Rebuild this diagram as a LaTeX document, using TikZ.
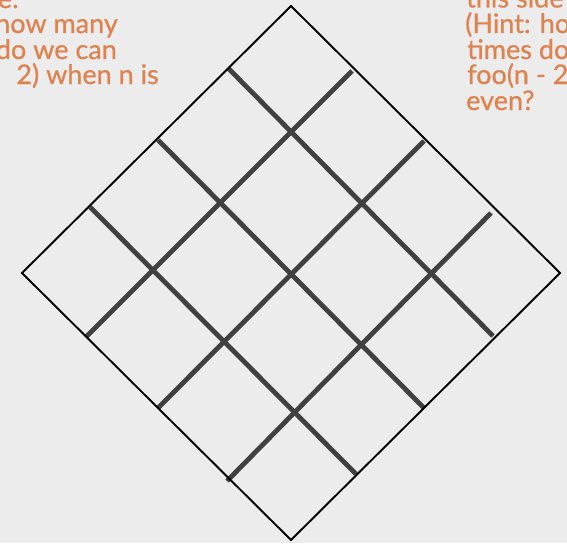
\documentclass[tikz,border=0pt]{standalone}
\usepackage{fontspec}
\newfontfamily\notefont{Lato}[FakeBold=0.7]
\definecolor{paper}{RGB}{236,236,236}
\definecolor{notecolor}{RGB}{222,130,80}
\definecolor{gridgray}{RGB}{64,64,64}

\begin{document}
\begin{tikzpicture}[x=1pt, y=-1pt,
    frame/.style={draw=black, line width=1.9pt, line join=miter},
    gridline/.style={draw=gridgray, line width=4.8pt},
    note/.style={inner sep=0pt, text=notecolor, font=\notefont\fontsize{27}{27}\selectfont},
]

% Paper
\fill[paper] (0,0) rectangle (567,543);
\useasboundingbox (0,0) rectangle (567,543);
\clip (0,0) rectangle (567,543);

% Diamond corners
\coordinate (top) at (291,6);
\coordinate (left) at (22,273);
\coordinate (bottom) at (291,540);
\coordinate (right) at (560,273);

% Ends of the inner lines
\coordinate (ul1) at (228,68);  \coordinate (lr1) at (493,336);
\coordinate (ul2) at (158,140); \coordinate (lr2) at (424,408);
\coordinate (ul3) at (90,207);  \coordinate (lr3) at (356,474);
\coordinate (ll1) at (86,337);  \coordinate (ur1) at (352,71);
\coordinate (ll2) at (158,408); \coordinate (ur2) at (424,141);
\coordinate (ll3) at (227,481); \coordinate (ur3) at (491,213);

% Inner grid
\foreach \i in {1,2,3} {
    \draw[gridline] (ul\i) -- (lr\i);
    \draw[gridline] (ll\i) -- (ur\i);
}

% Outline
\draw[frame] (top) -- (right) -- (bottom) -- (left) -- cycle;

% Notes, cut off at the edges
\node[note, anchor=base east] (n1) at (19,8) {e:};
\node[note, anchor=base east] (n2) at (118,33) {how many};
\node[note, anchor=base east] (n3) at (117,59) {do we can};
\node[note, anchor=base east] (n4) at (159,84) {2) when n is};

\node[note, anchor=base west] (m1) at (466,7.5) {this side};
\node[note, anchor=base west] (m2) at (465,33) {(Hint: how};
\node[note, anchor=base west] (m3) at (467,59) {times do};
\node[note, anchor=base west] (m4) at (467,84) {foo(n - 2)};
\node[note, anchor=base west] (m5) at (466,110) {even?};

\end{tikzpicture}
\end{document}
